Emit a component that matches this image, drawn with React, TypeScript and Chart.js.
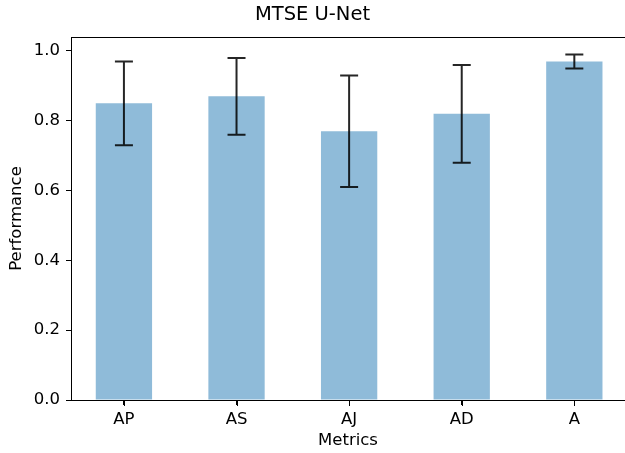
import React, { useEffect, useRef } from "react";
import { Chart, registerables } from "chart.js";

Chart.register(...registerables);

const categories = ["AP", "AS", "AJ", "AD", "A"];
const values = [0.85, 0.87, 0.77, 0.82, 0.97];
const errors = [0.12, 0.11, 0.16, 0.14, 0.02];
const yTicks = [0, 0.2, 0.4, 0.6, 0.8, 1.0];

const FONT = "'DejaVu Sans', sans-serif";

const framePlugin = {
  id: "frame",
  afterDraw(chart: any) {
    const { ctx, chartArea } = chart;
    const xs = chart.scales.x;
    ctx.save();
    ctx.strokeStyle = "#000";
    ctx.lineWidth = 1;
    ctx.strokeRect(
      Math.round(chartArea.left) + 0.5,
      Math.round(chartArea.top) + 0.5,
      Math.round(chartArea.right - chartArea.left),
      Math.round(chartArea.bottom - chartArea.top)
    );
    ctx.beginPath();
    categories.forEach((_, i) => {
      const px = Math.round(xs.getPixelForValue(i)) + 0.5;
      ctx.moveTo(px, chartArea.bottom);
      ctx.lineTo(px, chartArea.bottom + 6);
    });
    ctx.stroke();
    ctx.restore();
  },
};

const errorBarPlugin = {
  id: "errorBars",
  afterDatasetsDraw(chart: any) {
    const { ctx } = chart;
    const meta = chart.getDatasetMeta(0);
    const y = chart.scales.y;
    ctx.save();
    ctx.strokeStyle = "rgba(0,0,0,0.85)";
    ctx.lineWidth = 2;
    const cap = 9;
    meta.data.forEach((bar: any, i: number) => {
      const x = bar.x;
      const top = y.getPixelForValue(values[i] + errors[i]);
      const bot = y.getPixelForValue(values[i] - errors[i]);
      ctx.beginPath();
      ctx.moveTo(x, top);
      ctx.lineTo(x, bot);
      ctx.moveTo(x - cap, top);
      ctx.lineTo(x + cap, top);
      ctx.moveTo(x - cap, bot);
      ctx.lineTo(x + cap, bot);
      ctx.stroke();
    });
    ctx.restore();
  },
};

export default function App() {
  const ref = useRef<HTMLCanvasElement>(null);
  useEffect(() => {
    document.body.style.margin = "0";
    const chart = new Chart(ref.current as HTMLCanvasElement, {
      type: "bar",
      data: {
        datasets: [
          {
            data: categories.map((_, i) => ({ x: i, y: values[i] })),
            backgroundColor: "rgba(31,119,180,0.5)",
            borderWidth: 0,
            barPercentage: 0.5,
            categoryPercentage: 1,
          },
        ],
      },
      options: {
        animation: false,
        responsive: false,
        layout: { padding: { left: 0, right: 0, top: 0, bottom: 0 } },
        plugins: {
          legend: { display: false },
          tooltip: { enabled: false },
          title: {
            display: true,
            text: "MTSE U-Net",
            color: "#000",
            font: { family: FONT, size: 19.5, weight: "normal" },
            padding: { top: 3, bottom: 10.6 },
          },
        },
        scales: {
          x: {
            type: "linear",
            min: -0.47,
            max: 4.45,
            offset: false,
            afterBuildTicks(scale: any) {
              scale.ticks = categories.map((_, i) => ({ value: i }));
            },
            grid: {
              offset: false,
              drawOnChartArea: false,
              drawTicks: true,
              tickLength: 5,
              color: "#000",
            },
            border: { display: true, color: "#000" },
            ticks: {
              color: "#000",
              font: { family: FONT, size: 16.5 },
              padding: 5,
              maxRotation: 0,
              autoSkip: false,
              callback: (v: any) => categories[Math.round(Number(v))] ?? "",
            },
            title: {
              display: true,
              text: "Metrics",
              color: "#000",
              font: { family: FONT, size: 16.5 },
              padding: { top: 0, bottom: 2 },
            },
            afterFit(scale: any) {
              scale.height = 53;
            },
          },
          y: {
            min: 0,
            max: 1.04,
            afterBuildTicks(scale: any) {
              scale.ticks = yTicks.map((v) => ({ value: v }));
            },
            grid: {
              drawOnChartArea: false,
              drawTicks: true,
              tickLength: 5,
              color: "#000",
            },
            border: { display: true, color: "#000" },
            ticks: {
              color: "#000",
              font: { family: FONT, size: 16.5 },
              padding: 6,
              callback: (v: any) => Number(v).toFixed(1),
            },
            title: {
              display: true,
              text: "Performance",
              color: "#000",
              font: { family: FONT, size: 16.5 },
              padding: { top: 7, bottom: 0 },
            },
            afterFit(scale: any) {
              scale.width = 71;
            },
          },
        },
      },
      plugins: [framePlugin, errorBarPlugin],
    } as any);
    return () => chart.destroy();
  }, []);
  return <canvas ref={ref} width={625} height={453} style={{ display: "block" }} />;
}
